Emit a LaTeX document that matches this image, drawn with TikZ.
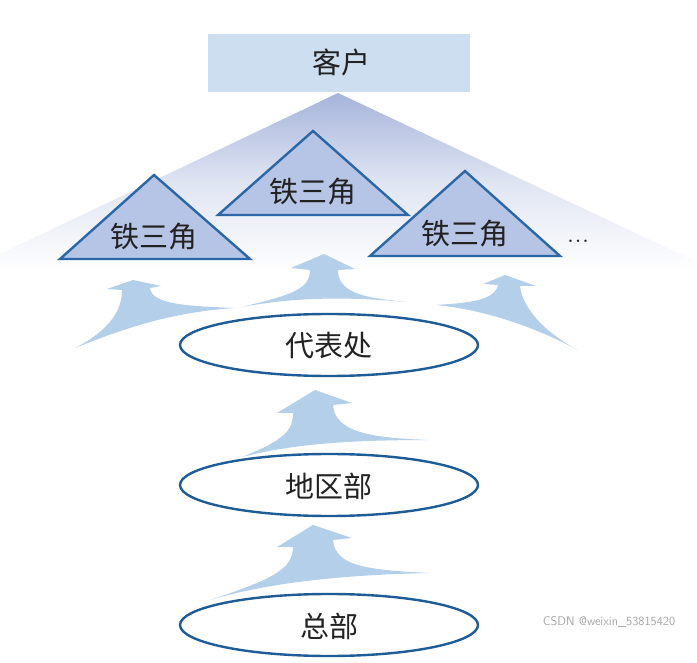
\documentclass[tikz,border=0pt]{standalone}
\usepackage{fontspec}
\newfontfamily\cjk{Noto Sans CJK SC}
\definecolor{boxfill}{HTML}{CCDEF0}
\definecolor{arrowfill}{HTML}{B3CFE9}
\definecolor{ellline}{HTML}{1E5C98}
\definecolor{triline}{HTML}{2B67A6}
\definecolor{trifill}{HTML}{B6C5E6}
\definecolor{shadetop}{HTML}{A6B4DB}
\definecolor{txt}{HTML}{222222}
\tikzset{
  lbl/.style={font=\cjk\fontsize{29}{29}\selectfont, text=txt, inner sep=0pt},
  tri/.style={draw=triline, fill=trifill, line width=2.4pt, line join=miter},
  sweep/.style={fill=arrowfill, draw=none},
  org/.style={ellipse, draw=ellline, fill=white, line width=2.4pt, minimum width=298pt, minimum height=62pt, inner sep=0pt},
}
\usetikzlibrary{shapes.geometric}
\begin{document}
\begin{tikzpicture}[x=1pt,y=-1pt]
\useasboundingbox (0,0) rectangle (697,663);
\fill[white] (0,0) rectangle (697,663);
% big shaded triangle
\shade[top color=shadetop, bottom color=white, middle color=shadetop!35]
  (338,93) -- (697,262) -- (697,272) -- (0,272) -- (0,254) -- cycle;
% customer box
\node[fill=boxfill, minimum width=262pt, minimum height=58pt, inner sep=0pt] (kehu) at (339,63) {};
\node[lbl] (kehut) at (341,62) {客户};
% sweeping arrows top row
\fill[sweep] (133,280) -- (161,286) -- (150,288)
  .. controls (152,305) and (190,306) .. (235,308)
  .. controls (170,312) and (120,330) .. (75,348)
  .. controls (110,330) and (122,310) .. (122,290)
  -- (107,289) -- cycle;
\fill[sweep] (324,254) -- (355,269) -- (338,270)
  .. controls (338,295) and (370,298) .. (406,302)
  .. controls (340,296) and (290,298) .. (242,307)
  .. controls (290,295) and (310,290) .. (310,270)
  -- (291,268) -- cycle;
\fill[sweep] (505,275) -- (536,286) -- (520,286)
  .. controls (522,305) and (540,330) .. (578,350)
  .. controls (540,330) and (490,310) .. (435,305)
  .. controls (470,303) and (495,300) .. (498,285)
  -- (483,284) -- cycle;
% middle arrow
\fill[sweep] (315,390) -- (352,403) -- (333,405)
  .. controls (335,432) and (370,438) .. (430,440)
  .. controls (340,440) and (290,445) .. (242,457)
  .. controls (285,440) and (293,430) .. (293,413)
  -- (277,413) -- cycle;
% lower arrow
\fill[sweep] (313,525) -- (352,538) -- (333,540)
  .. controls (335,567) and (370,570) .. (430,573)
  .. controls (330,575) and (260,585) .. (210,600)
  .. controls (270,580) and (293,570) .. (293,547)
  -- (277,547) -- cycle;
% iron triangles
\draw[tri] (154,175) -- (250,259) -- (60,259) -- cycle;
\draw[tri] (313,131) -- (408,215) -- (218,215) -- cycle;
\draw[tri] (465,171) -- (560,256) -- (370,256) -- cycle;
\node[lbl] (t1) at (154,237) {铁三角};
\node[lbl] (t2) at (313,192) {铁三角};
\node[lbl] (t3) at (465,234) {铁三角};
\node[font=\fontsize{30}{30}\selectfont, text=txt, inner sep=0pt, anchor=base] (dots) at (578,243) {...};
% organisation ellipses
\node[org] (dbc) at (329,345) {};
\node[lbl] (dbct) at (329,346) {代表处};
\node[org] (dqb) at (329,485) {};
\node[lbl] (dqbt) at (329,486) {地区部};
\node[org] (zb) at (329,625) {};
\node[lbl] (zbt) at (329,626) {总部};
% watermark
\node[font=\fontsize{12.5}{12.5}\selectfont\sffamily, text=black!35, inner sep=0pt] (wm) at (609,622) {CSDN @weixin\_53815420};
\end{tikzpicture}
\end{document}
